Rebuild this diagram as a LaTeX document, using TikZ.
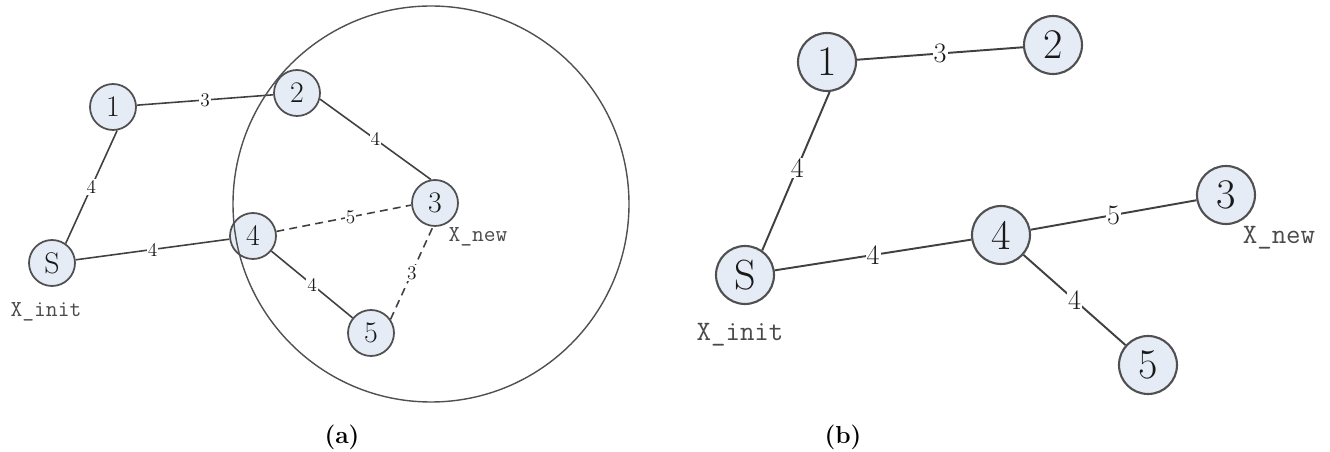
\documentclass[tikz,border=0pt]{standalone}
\usepackage{tikz}
\usetikzlibrary{calc}
\definecolor{vfill}{HTML}{E6ECF6}
\definecolor{vline}{HTML}{505050}
\definecolor{eline}{HTML}{404040}
\definecolor{tagfg}{HTML}{4A4A4A}
\tikzset{
  vertA/.style={circle, draw=vline, line width=1pt, fill=vfill, minimum size=0.92cm,
                inner sep=0pt, font=\fontsize{17}{17}\selectfont, text=black!90},
  vertB/.style={vertA, minimum size=1.16cm, line width=1.2pt, font=\fontsize{24}{24}\selectfont},
  edgeA/.style={draw=eline, line width=0.9pt},
  edgeB/.style={draw=eline, line width=1.1pt},
  trial/.style={edgeA, dash pattern=on 4.5pt off 3pt},
  wtA/.style={fill=white, inner sep=0.6pt, font=\fontsize{11}{11}\selectfont, text=black!90},
  wtB/.style={wtA, font=\fontsize{16}{16}\selectfont},
  tagA/.style={inner sep=0pt, font=\ttfamily\fontsize{13}{13}\selectfont, text=tagfg},
  tagB/.style={tagA, font=\ttfamily\fontsize{16}{16}\selectfont},
  caption/.style={inner sep=0pt, font=\bfseries\fontsize{14}{14}\selectfont}
}

\begin{document}
\begin{tikzpicture}[x=0.02cm, y=-0.02cm]
  \useasboundingbox (0,0) rectangle (1330,452);

  % (a) neighbourhood of the new node
  \node[vertA] (aS) at (52,263) {S};
  \node[vertA] (a1) at (113,107) {1};
  \node[vertA] (a2) at (297,93) {2};
  \node[vertA] (a3) at (435,203) {3};
  \node[vertA] (a4) at (253,236) {4};
  \node[vertA] (a5) at (371,333) {5};
  \node[tagA] (aInit) at ($(aS)+(-6,49)$) {X\_init};
  \node[tagA] (aNew) at ($(a3)+(43,34)$) {X\_new};

  \draw[edgeA] (aS.55) -- node[wtA, pos=0.5] {4} (a1.-80);
  \draw[edgeA] (a1) -- node[wtA] {3} (a2);
  \draw[edgeA] (a2.-15) -- node[wtA, pos=0.5] {4} (a3.100);
  \draw[edgeA] (aS) -- node[wtA] {4} (a4);
  \draw[edgeA] (a4) -- node[wtA] {4} (a5);
  \draw[trial] (a4) -- node[wtA, pos=0.55] {5} (a3.185);
  \draw[trial] (a5.35) -- node[wtA, pos=0.5] {3} (a3.-95);

  \draw[draw=vline, line width=0.8pt] ($(a3)+(-4,1)$) circle[radius=198];

  % (b) tree after rewiring
  \node[vertB] (bS) at (745,275) {S};
  \node[vertB] (b1) at (827,62) {1};
  \node[vertB] (b2) at (1053,45) {2};
  \node[vertB] (b3) at (1226,195) {3};
  \node[vertB] (b4) at (1001,235) {4};
  \node[vertB] (b5) at (1148,365) {5};
  \node[tagB] (bInit) at ($(bS)+(-5,60)$) {X\_init};
  \node[tagB] (bNew) at ($(b3)+(53,43)$) {X\_new};

  \draw[edgeB] (bS.55) -- node[wtB, pos=0.52] {4} (b1.-85);
  \draw[edgeB] (b1) -- node[wtB] {3} (b2);
  \draw[edgeB] (bS) -- node[wtB] {4} (b4);
  \draw[edgeB] (b4) -- node[wtB] {5} (b3);
  \draw[edgeB] (b4) -- node[wtB] {4} (b5);

  \node[caption] (capA) at (342,437) {(a)};
  \node[caption] (capB) at (843,437) {(b)};
\end{tikzpicture}
\end{document}
